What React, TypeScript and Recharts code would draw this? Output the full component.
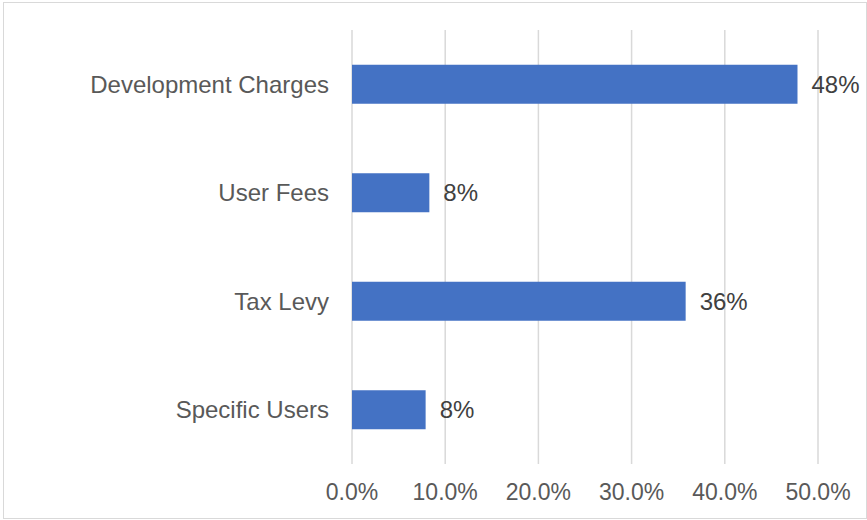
import React from 'react';
import { BarChart, Bar, XAxis, YAxis, CartesianGrid, LabelList } from 'recharts';

const categories = ['Development Charges', 'User Fees', 'Tax Levy', 'Specific Users'];
const shares = [47.8, 8.3, 35.8, 7.9];
const shareLabels = ['48%', '8%', '36%', '8%'];
const xTicks = [0, 10, 20, 30, 40, 50];

const data = categories.map((name, i) => ({ name, value: shares[i], label: shareLabels[i] }));

const FONT = '"Liberation Sans", Arial, sans-serif';

export default function App() {
  return (
    <div
      style={{
        position: 'absolute',
        left: 3,
        top: 2,
        width: 862,
        height: 515,
        border: '1px solid #d9d9d9',
        background: '#fff',
        fontFamily: FONT,
      }}
    >
      <BarChart
        width={862}
        height={515}
        data={data}
        layout="vertical"
        margin={{ top: 27, right: 48, bottom: 0, left: 0 }}
        barCategoryGap="32%"
      >
        <CartesianGrid horizontal={false} vertical={true} stroke="#d9d9d9" strokeWidth={1.5} />
        <XAxis
          type="number"
          domain={[0, 50]}
          ticks={xTicks}
          tickFormatter={(v: number) => `${v.toFixed(1)}%`}
          axisLine={false}
          tickLine={false}
          tickSize={0}
          tickMargin={20}
          height={54}
          tick={{ fill: '#595959', fontSize: 23, fontFamily: FONT }}
          interval={0}
        />
        <YAxis
          type="category"
          dataKey="name"
          width={348}
          axisLine={false}
          tickLine={false}
          tickSize={0}
          tickMargin={23}
          tick={{ fill: '#595959', fontSize: 24, fontFamily: FONT }}
          interval={0}
        />
        <Bar dataKey="value" fill="#4472C4" isAnimationActive={false}>
          <LabelList
            dataKey="label"
            position="right"
            offset={14}
            fill="#404040"
            fontSize={24}
            fontFamily={FONT}
          />
        </Bar>
      </BarChart>
    </div>
  );
}
